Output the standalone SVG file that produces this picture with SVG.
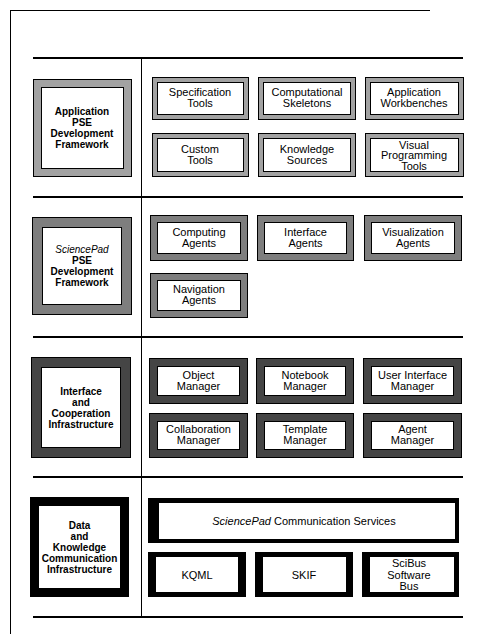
<svg xmlns="http://www.w3.org/2000/svg" width="482" height="634" viewBox="0 0 482 634">
<style>
.o{stroke:#000;stroke-width:1}
.s1{fill:#a2a2a2}
.s2{fill:#7e7e7e}
.s3{fill:#454545}
.s4{fill:#000}
.i{fill:#fff;stroke:#000;stroke-width:1}
.i4{fill:#fff}
.ln{stroke:#000;fill:none}
text{font-family:"Liberation Sans",Arial,Helvetica,sans-serif;fill:#000;text-anchor:middle}
.t{font-size:11px}
.tb{font-size:10px;font-weight:bold}
.it{font-style:italic}
</style>
<rect width="482" height="634" fill="#fff"/>
<g id="frame">
<line class="ln" x1="10" y1="10.5" x2="430" y2="10.5" stroke-width="1"/>
<line class="ln" x1="10.5" y1="10" x2="10.5" y2="634" stroke-width="1"/>
<line class="ln" x1="33" y1="58" x2="463" y2="58" stroke-width="2"/>
<line class="ln" x1="33" y1="197" x2="463" y2="197" stroke-width="2"/>
<line class="ln" x1="33" y1="337" x2="463" y2="337" stroke-width="2"/>
<line class="ln" x1="33" y1="477" x2="463" y2="477" stroke-width="2"/>
<line class="ln" x1="33" y1="617" x2="463" y2="617" stroke-width="2"/>
<line class="ln" x1="141.5" y1="58" x2="141.5" y2="617" stroke-width="1"/>
</g>
<g id="connectors"></g>

<g id="app-pse">
<rect class="o s1" x="33.5" y="79.5" width="98" height="97"/>
<rect class="i" x="41.5" y="87.5" width="82" height="81"/>
<text class="tb" x="82" y="115">Application</text>
<text class="tb" x="82" y="126">PSE</text>
<text class="tb" x="82" y="137">Development</text>
<text class="tb" x="82" y="148">Framework</text>
</g>
<g id="spec-tools">
<rect class="o s1" x="152.5" y="77.5" width="96" height="42"/>
<rect class="i" x="157.5" y="82.5" width="86" height="32"/>
<text class="t" x="200" y="96">Specification</text>
<text class="t" x="200" y="107">Tools</text>
</g>
<g id="comp-skel">
<rect class="o s1" x="258.5" y="77.5" width="97" height="42"/>
<rect class="i" x="263.5" y="82.5" width="87" height="32"/>
<text class="t" x="307" y="96">Computational</text>
<text class="t" x="307" y="107">Skeletons</text>
</g>
<g id="app-wb">
<rect class="o s1" x="365.5" y="77.5" width="98" height="42"/>
<rect class="i" x="370.5" y="82.5" width="88" height="32"/>
<text class="t" x="414" y="96">Application</text>
<text class="t" x="414" y="107">Workbenches</text>
</g>
<g id="custom-tools">
<rect class="o s1" x="152.5" y="133.5" width="96" height="43"/>
<rect class="i" x="157.5" y="138.5" width="86" height="33"/>
<text class="t" x="200" y="152.5">Custom</text>
<text class="t" x="200" y="163.5">Tools</text>
</g>
<g id="knowledge-sources">
<rect class="o s1" x="258.5" y="133.5" width="97" height="43"/>
<rect class="i" x="263.5" y="138.5" width="87" height="33"/>
<text class="t" x="307" y="152.5">Knowledge</text>
<text class="t" x="307" y="163.5">Sources</text>
</g>
<g id="visual-prog">
<rect class="o s1" x="365.5" y="133.5" width="98" height="43"/>
<rect class="i" x="370.5" y="138.5" width="88" height="33"/>
<text class="t" x="414" y="148.5">Visual</text>
<text class="t" x="414" y="159">Programming</text>
<text class="t" x="414" y="169.5">Tools</text>
</g>

<g id="sp-pse">
<rect class="o s2" x="32.5" y="217.5" width="99" height="97"/>
<rect class="i" x="42.5" y="227.5" width="79" height="77"/>
<text class="tb" x="82" y="253"><tspan class="it" font-weight="normal">SciencePad</tspan></text>
<text class="tb" x="82" y="264">PSE</text>
<text class="tb" x="82" y="275">Development</text>
<text class="tb" x="82" y="286">Framework</text>
</g>
<g id="computing-agents">
<rect class="o s2" x="150.5" y="215.5" width="97" height="45"/>
<rect class="i" x="157.5" y="222.5" width="83" height="31"/>
<text class="t" x="199" y="235.5">Computing</text>
<text class="t" x="199" y="246.5">Agents</text>
</g>
<g id="interface-agents">
<rect class="o s2" x="257.5" y="215.5" width="96" height="45"/>
<rect class="i" x="264.5" y="222.5" width="82" height="31"/>
<text class="t" x="305.5" y="235.5">Interface</text>
<text class="t" x="305.5" y="246.5">Agents</text>
</g>
<g id="visualization-agents">
<rect class="o s2" x="364.5" y="215.5" width="97" height="45"/>
<rect class="i" x="371.5" y="222.5" width="83" height="31"/>
<text class="t" x="413" y="235.5">Visualization</text>
<text class="t" x="413" y="246.5">Agents</text>
</g>
<g id="navigation-agents">
<rect class="o s2" x="150.5" y="273.5" width="97" height="44"/>
<rect class="i" x="157.5" y="280.5" width="83" height="30"/>
<text class="t" x="199" y="293">Navigation</text>
<text class="t" x="199" y="304">Agents</text>
</g>

<g id="ici">
<rect class="o s3" x="31.5" y="357.5" width="99" height="100"/>
<rect class="i" x="41.5" y="367.5" width="79" height="80"/>
<text class="tb" x="81" y="395">Interface</text>
<text class="tb" x="81" y="406">and</text>
<text class="tb" x="81" y="417">Cooperation</text>
<text class="tb" x="81" y="428">Infrastructure</text>
</g>
<g id="object-manager">
<rect class="o s3" x="149.5" y="358.5" width="98" height="45"/>
<rect class="i" x="157.5" y="366.5" width="82" height="29"/>
<text class="t" x="198.5" y="378.5">Object</text>
<text class="t" x="198.5" y="389.5">Manager</text>
</g>
<g id="notebook-manager">
<rect class="o s3" x="256.5" y="358.5" width="97" height="45"/>
<rect class="i" x="264.5" y="366.5" width="81" height="29"/>
<text class="t" x="305" y="378.5">Notebook</text>
<text class="t" x="305" y="389.5">Manager</text>
</g>
<g id="ui-manager">
<rect class="o s3" x="363.5" y="358.5" width="98" height="45"/>
<rect class="i" x="371.5" y="366.5" width="82" height="29"/>
<text class="t" x="412.5" y="378.5">User Interface</text>
<text class="t" x="412.5" y="389.5">Manager</text>
</g>
<g id="collab-manager">
<rect class="o s3" x="149.5" y="413.5" width="98" height="44"/>
<rect class="i" x="157.5" y="421.5" width="82" height="28"/>
<text class="t" x="198.5" y="433">Collaboration</text>
<text class="t" x="198.5" y="444">Manager</text>
</g>
<g id="template-manager">
<rect class="o s3" x="256.5" y="413.5" width="97" height="44"/>
<rect class="i" x="264.5" y="421.5" width="81" height="28"/>
<text class="t" x="305" y="433">Template</text>
<text class="t" x="305" y="444">Manager</text>
</g>
<g id="agent-manager">
<rect class="o s3" x="363.5" y="413.5" width="98" height="44"/>
<rect class="i" x="371.5" y="421.5" width="82" height="28"/>
<text class="t" x="412.5" y="433">Agent</text>
<text class="t" x="412.5" y="444">Manager</text>
</g>

<g id="dkci">
<rect class="s4" x="30" y="497" width="99" height="100"/>
<rect class="i4" x="39" y="506" width="81" height="82"/>
<text class="tb" x="79.5" y="529">Data</text>
<text class="tb" x="79.5" y="540">and</text>
<text class="tb" x="79.5" y="551">Knowledge</text>
<text class="tb" x="79.5" y="562">Communication</text>
<text class="tb" x="79.5" y="573">Infrastructure</text>
</g>
<g id="comm-services">
<rect class="s4" x="148" y="498" width="311" height="45"/>
<rect class="i4" x="159" y="503" width="296" height="36"/>
<text class="t" x="304" y="524.5"><tspan class="it">SciencePad</tspan> Communication Services</text>
</g>
<g id="kqml">
<rect class="s4" x="148" y="552" width="98" height="45"/>
<rect class="i4" x="156" y="557" width="82" height="35"/>
<text class="t" x="197" y="578.5">KQML</text>
</g>
<g id="skif">
<rect class="s4" x="255" y="552" width="98" height="45"/>
<rect class="i4" x="263" y="557" width="83" height="35"/>
<text class="t" x="304" y="578.5">SKIF</text>
</g>
<g id="scibus">
<rect class="s4" x="362" y="552" width="97" height="45"/>
<rect class="i4" x="370" y="557" width="84" height="35"/>
<text class="t" x="409" y="567">SciBus</text>
<text class="t" x="409" y="578.5">Software</text>
<text class="t" x="409" y="590">Bus</text>
</g>
</svg>
